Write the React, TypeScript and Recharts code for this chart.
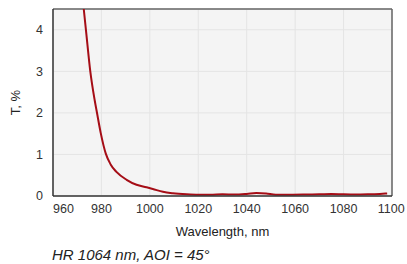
import { LineChart, Line, XAxis, YAxis, CartesianGrid, ReferenceLine } from 'recharts';

const wavelengths = [
    972.7, 973.6, 975.4, 977.2, 978.2, 979.7, 981.8, 983.8, 986.2, 990.4, 994.5, 998.6,
    1001.2, 1005.4, 1009.5, 1015.2, 1020, 1025, 1030, 1035, 1040, 1044, 1048, 1052,
    1058, 1065, 1070, 1075, 1080, 1085, 1090, 1095, 1098,
];
const transmission = [
    4.5, 4.0, 3.0, 2.31, 1.99, 1.52, 1.02, 0.76, 0.58, 0.39, 0.27, 0.21,
    0.17, 0.1, 0.065, 0.04, 0.03, 0.03, 0.04, 0.035, 0.05, 0.07, 0.06, 0.03,
    0.03, 0.035, 0.04, 0.05, 0.04, 0.035, 0.04, 0.05, 0.06,
];
const xTicks = [960, 980, 1000, 1020, 1040, 1060, 1080, 1100];
const yTicks = [0, 1, 2, 3, 4];

const data = wavelengths.map((wl, i) => ({ wl, t: transmission[i] }));

const font = 'Arial, "Liberation Sans", sans-serif';

function XTick(props: any) {
    const { x, y, payload, index } = props;
    return (
        <text
            x={x}
            y={y + 5}
            textAnchor={index === 0 ? 'start' : 'middle'}
            fill="#333"
            fontSize={12.5}
            fontFamily={font}
            dominantBaseline="central"
        >
            {payload.value}
        </text>
    );
}

export default function App() {
    return (
        <div style={{ position: 'absolute', left: 0, top: 0, width: 407, height: 264, background: '#fff' }}>
            <LineChart
                width={407}
                height={240}
                data={data}
                margin={{ top: 9, right: 15, left: 0, bottom: 0 }}
            >
                <CartesianGrid fill="#f4f4f4" stroke="#e4e4e4" strokeWidth={1} />
                <XAxis
                    dataKey="wl"
                    type="number"
                    domain={[960, 1100]}
                    ticks={xTicks}
                    height={44}
                    tickLine={false}
                    axisLine={{ stroke: '#333', strokeWidth: 1.5 }}
                    tick={<XTick />}
                    label={{ value: 'Wavelength, nm', position: 'insideBottom', offset: 4, fill: '#222', fontSize: 13, fontFamily: font }}
                />
                <YAxis
                    type="number"
                    domain={[0, 4.5]}
                    ticks={yTicks}
                    width={53}
                    tickLine={false}
                    axisLine={{ stroke: '#333', strokeWidth: 1.5 }}
                    tick={{ fill: '#333', fontSize: 12.5, fontFamily: font }}
                    tickMargin={4}
                    label={{ value: 'T, %', angle: -90, position: 'insideLeft', offset: 15, fill: '#222', fontSize: 13, fontFamily: font, style: { textAnchor: 'middle' } }}
                />
                <ReferenceLine y={4.5} stroke="#666" strokeWidth={1.5} />
                <ReferenceLine x={1100} stroke="#666" strokeWidth={1.5} />
                <Line
                    dataKey="t"
                    type="monotone"
                    stroke="#a50d16"
                    strokeWidth={2}
                    dot={false}
                    isAnimationActive={false}
                />
            </LineChart>
            <div
                style={{
                    position: 'absolute',
                    left: 52,
                    top: 246,
                    fontFamily: font,
                    fontStyle: 'italic',
                    fontSize: 15,
                    color: '#222',
                    lineHeight: '17px',
                }}
            >
                HR 1064 nm, AOI = 45°
            </div>
        </div>
    );
}
